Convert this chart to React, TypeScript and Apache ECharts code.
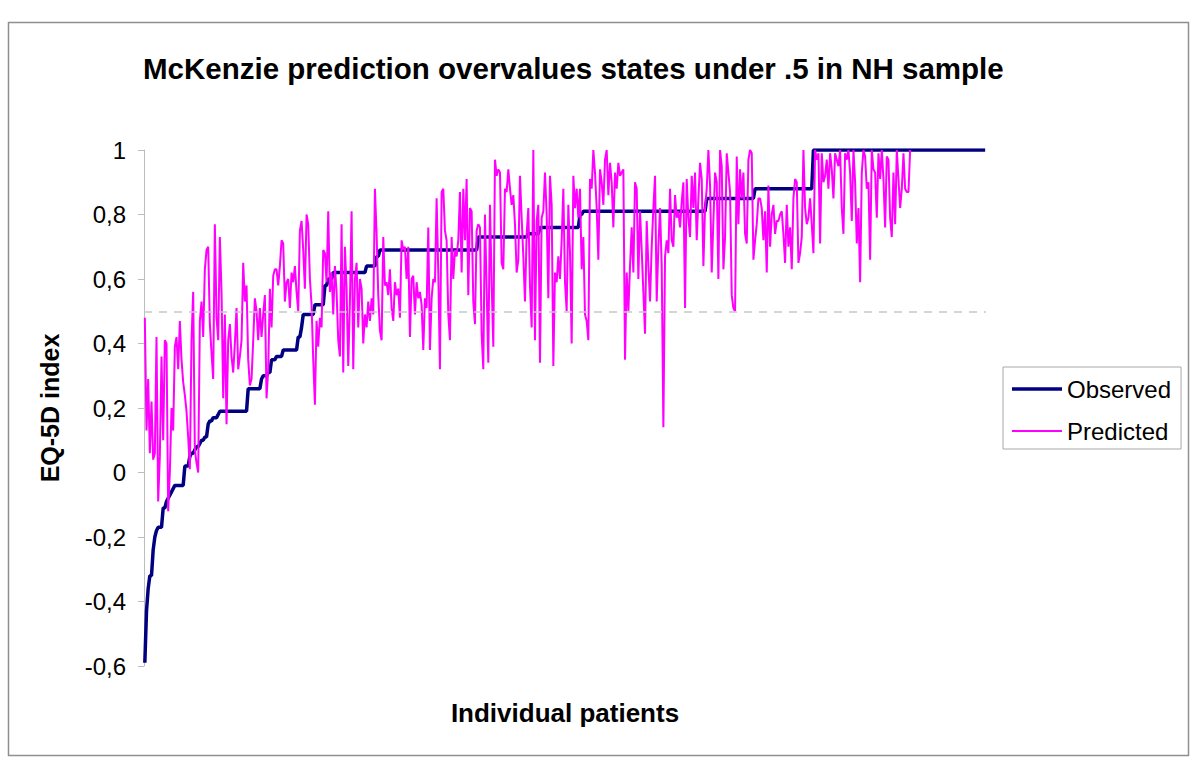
import React, { useEffect, useRef } from "react";
import * as echarts from "echarts";

const FONT = "'Liberation Sans', Arial, Helvetica, sans-serif";
const TITLE = "McKenzie prediction overvalues states under .5 in NH sample";
const Y_NAME = "EQ-5D index";
const X_NAME = "Individual patients";
const SERIES_NAMES = ["Observed", "Predicted"];
const Y_MIN = -0.6;
const Y_MAX = 1;
const Y_STEP = 0.2;
const REFERENCE_LEVEL = 0.5;

// Observed EQ-5D index, sorted: [value, number of patients with that value]
const observedRuns: [number, number][] = [
  [-0.59, 1], [-0.43, 1], [-0.36, 1], [-0.32, 2], [-0.24, 1], [-0.2, 1], [-0.18, 1],
  [-0.17, 3], [-0.11, 2], [-0.09, 1], [-0.08, 1], [-0.07, 1], [-0.06, 1], [-0.05, 1],
  [-0.04, 6], [0.02, 3], [0.05, 1], [0.06, 2], [0.07, 1], [0.08, 2], [0.09, 1],
  [0.1, 2], [0.11, 2], [0.15, 1], [0.16, 2], [0.17, 3], [0.18, 1], [0.19, 17],
  [0.26, 8], [0.29, 1], [0.3, 3], [0.31, 2], [0.35, 3], [0.36, 4], [0.38, 9],
  [0.42, 2], [0.45, 1], [0.49, 7], [0.52, 6], [0.58, 2], [0.6, 3], [0.62, 20],
  [0.64, 6], [0.67, 2], [0.69, 59], [0.73, 30], [0.74, 7], [0.76, 24], [0.8, 2],
  [0.81, 74], [0.85, 29], [0.88, 35], [1, 104],
];

// Predicted EQ-5D index for the same patients (in the same order)
const predictedA = [
  .48, .13, .29, .06, .22, .04, .06, .42, -.09, .05,
  .36, .10, .41, .40, -.12, 0, .20, .13, .39, .42,
  .32, .47, .35, .28, .24, .19, .11, .01, .41, .56,
  .07, .03, 0, .47, .53, .42, .63, .69, .70, .46,
  .37, .29, .77, .48, .41, .73, .56, .23, .49, .15,
  .41, .46, .36, .31, .40, .51, .32, .36, .41, .65,
  .53, .58, .35, .27, .29, .41, .54, .50, .41, .51,
  .42, .49, .55, .23, .32, .57, .45, .61, .63, .63,
  .58, .64, .72, .71, .53, .59, .60,
];
const predictedB = [
  .51, .62, .59, .64, .56, .50, .75, .78, .69, .57,
  .80, .77, .60, .52, .35, .21, .47, .39, .48, .45,
  .69, .68, .59, .81, .56, .62, .49, .64, .56, .41,
  .36, .77, .31, .70, .57, .33, .53, .81, .32, .60,
  .65, .45, .60, .57, .40, .49, .45, .53, .47, .54,
  .49, .88, .74, .55, .44, .41, .73, .58, .59, .55,
  .63, .51, .47, .59, .55, .57, .48, .72, .69, .70,
  .60, .70, .42, .60, .61, .49, .59, .54, .56, .52,
  .38, .54, .51, .76, .38, .54, .60,
];
const predictedC = [
  .59, .85, .62, .32, .87, .88, .75, .72, .49, .41,
  .73, .60, .69, .67, .72, .87, .62, .88, .72, .91,
  .55, .82, .81, .53, .46, .75, .77, .76, .43, .32,
  .80, .57, .34, .83, .59, .39, .97, .92, .94, .93,
  .65, .63, .88, .87, .94, .88, .83, .86, .77, .62,
  .66, .92, .79, .67, .53, .74, .82, .58, .45, 1,
  .41, .78, .83, .34, .79, .81, .93, .80, .54, .92,
  .83, .33, .62, .59, .67, .60, .72, .88, .59, .50,
  .83, .68, .40, .92, .82, .88, .79,
];
const predictedD = [
  .88, .63, .73, .49, .47, .41, .91, .88, 1, .93,
  .82, .66, .94, .90, .83, .97, 1, .86, .96, .90,
  .76, .93, .88, .96, .92, .93, .94, .35, .62, .50,
  .64, .76, .62, .90, .88, .60, .81, .69, .56, .43,
  .78, .64, .53, .70, .82, .92, .53, .70, .82, .64,
  .14, .67, .72, .68, .88, .72, .70, .86, .79, .81,
  .76, .84, .90, .51, .91, .79, .73, .92, .82, .93,
  .72, .85, .96, .91, .64, .82, .88, 1, .89, .62,
  .78, .93, .90, .60, 1, .95, .63,
];
const predictedE = [
  .73, .99, .93, .87, .55, .51, .50, .98, .77, .94,
  .85, .93, .74, .71, .97, 1, .99, .66, .72, .77,
  .85, .85, .82, .72, .81, .62, .89, .70, .80, .83,
  .74, .78, .78, .80, .81, .74, .65, .83, .70, .76,
  .63, .85, .91, .90, .65, .68, .73, 1, .82, .77,
  .79, .85, .77, .68, 1, .97, .99, .71, .99, .90,
  .92, .97, .88, .99, .94, .85, .99, .97, .95, 1,
  .82, .74, .99, .97, 1, .93, .78, 1, .90, .71,
  .82, .59, .93, 1, .98, .88, .90,
];
const predictedF = [
  .66, 1, .94, .93, .79, .99, .91, 1, .91, .76,
  .98, .97, .79, .73, .93, .77, 1, .91, .82, .88,
  .99, .88, .87, .87, 1,
];

const fmt = (v: number) => String(Number(v.toFixed(1))).replace(".", ",");

export default function App() {
  const ref = useRef<HTMLDivElement>(null);

  useEffect(() => {
    if (!ref.current) return;
    const chart = echarts.init(ref.current, null, { renderer: "svg" });
    const observed: number[] = observedRuns.flatMap(([v, n]) => Array(n).fill(v));
    const predicted = [
      ...predictedA, ...predictedB, ...predictedC,
      ...predictedD, ...predictedE, ...predictedF,
    ];
    const patients = observed.map((_, i) => String(i + 1));

    chart.setOption({
      animation: false,
      backgroundColor: "#ffffff",
      textStyle: { fontFamily: FONT },
      title: {
        text: TITLE,
        left: 138,
        top: 48,
        textStyle: { fontFamily: FONT, fontSize: 29.5, fontWeight: "bold", color: "#000" },
      },
      legend: {
        data: [
          { name: SERIES_NAMES[0], icon: "path://M0,0H50V3.5H0Z", itemStyle: { color: "#000080" } },
          { name: SERIES_NAMES[1], icon: "path://M0,0H50V2H0Z", itemStyle: { color: "#ff00ff" } },
        ],
        orient: "vertical",
        left: 1003,
        top: 367,
        itemWidth: 50,
        itemHeight: 14,
        itemGap: 18,
        padding: [10, 10, 6, 9],
        borderColor: "#a8a8a8",
        borderWidth: 1,
        textStyle: { fontFamily: FONT, fontSize: 24, color: "#000" },
      },
      grid: { left: 144, top: 150, width: 842, height: 516, containLabel: false },
      xAxis: {
        type: "category",
        data: patients,
        boundaryGap: true,
        axisLine: { show: false },
        axisTick: { show: false },
        axisLabel: { show: false },
        splitLine: { show: false },
        name: X_NAME,
        nameLocation: "middle",
        nameGap: 34,
        nameTextStyle: { fontFamily: FONT, fontSize: 26, fontWeight: "bold", color: "#000" },
      },
      yAxis: {
        type: "value",
        min: Y_MIN,
        max: Y_MAX,
        interval: Y_STEP,
        axisLine: { show: true, lineStyle: { color: "#bdbdbd", width: 1 } },
        axisTick: { show: true, length: 6, lineStyle: { color: "#bdbdbd" } },
        splitLine: { show: false },
        axisLabel: {
          fontFamily: FONT,
          fontSize: 24,
          color: "#000",
          margin: 18,
          formatter: (v: number) => fmt(v),
        },
        name: Y_NAME,
        nameLocation: "middle",
        nameGap: 82,
        nameRotate: 90,
        nameTextStyle: { fontFamily: FONT, fontSize: 25, fontWeight: "bold", color: "#000" },
      },
      series: [
        {
          name: SERIES_NAMES[0],
          type: "line",
          data: observed,
          symbol: "none",
          showSymbol: false,
          color: "#000080",
          lineStyle: { color: "#000080", width: 3.5 },
          z: 2,
          markLine: {
            silent: true,
            symbol: ["none", "none"],
            label: { show: false },
            lineStyle: { color: "#c8c8c8", type: [8, 7], width: 1.5 },
            data: [{ yAxis: REFERENCE_LEVEL }],
          },
        },
        {
          name: SERIES_NAMES[1],
          type: "line",
          data: predicted,
          symbol: "none",
          showSymbol: false,
          color: "#ff00ff",
          lineStyle: { color: "#ff00ff", width: 2 },
          z: 3,
        },
      ],
      graphic: [
        {
          type: "rect",
          silent: true,
          z: -10,
          shape: { x: 8.5, y: 22.5, width: 1180, height: 733 },
          style: { fill: "none", stroke: "#8f8f8f", lineWidth: 1.5 },
        },
      ],
    });

    return () => chart.dispose();
  }, []);

  return (
    <div
      ref={ref}
      style={{ position: "absolute", left: 0, top: 0, width: 1200, height: 771, background: "#fff" }}
    />
  );
}
